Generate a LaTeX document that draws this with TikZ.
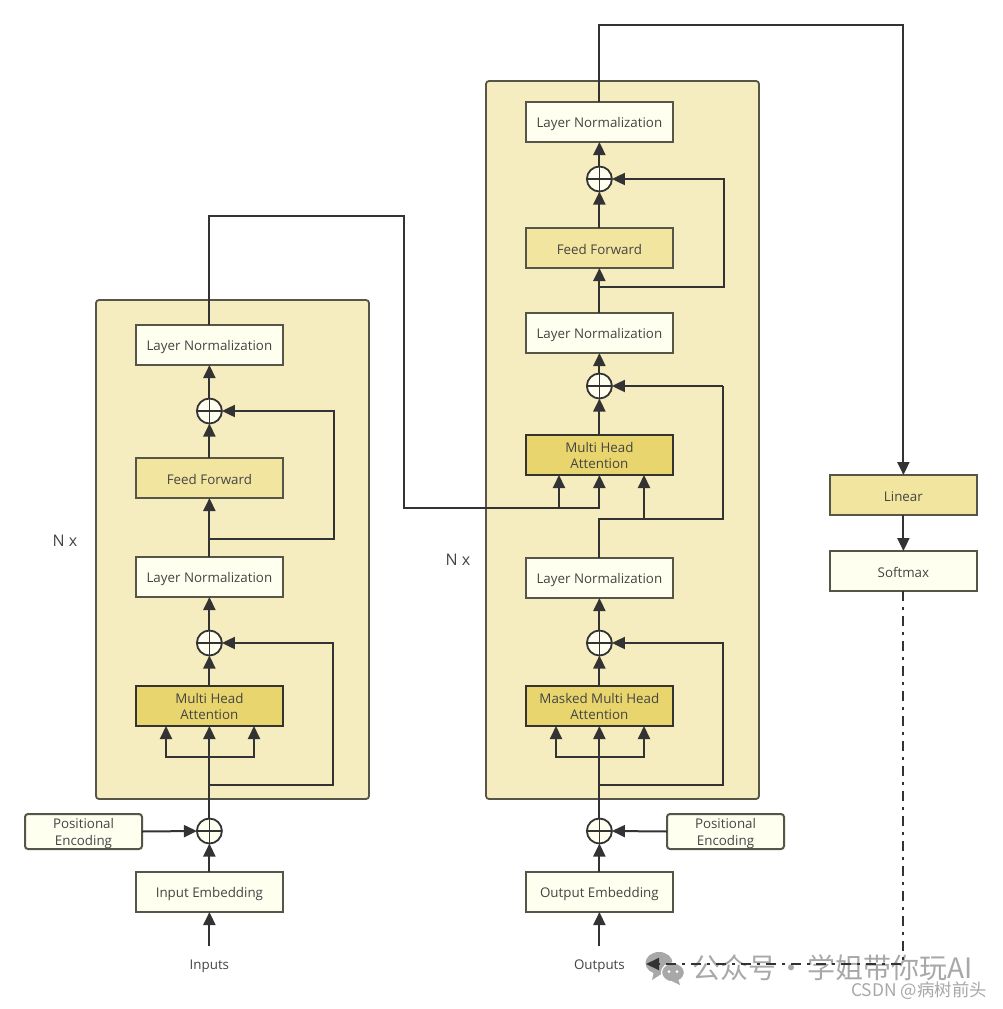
\documentclass[tikz,border=0pt]{standalone}
\usepackage{fontspec}
\setmainfont{Open Sans}
\newfontfamily\cjkfont{Noto Sans CJK SC}
\usetikzlibrary{arrows.meta,calc}
\definecolor{panelcol}{HTML}{F5ECC0}
\definecolor{lightcol}{HTML}{FFFFF0}
\definecolor{midcol}{HTML}{F2E5A0}
\definecolor{deepcol}{HTML}{E8D56D}
\definecolor{linecol}{HTML}{333333}
\definecolor{edgecol}{HTML}{555548}
\definecolor{textcol}{HTML}{444444}
\definecolor{markcol}{HTML}{A8A8A8}
\newcommand\toppad{\rule{0pt}{14pt}}
\tikzset{
  panel/.style={draw=edgecol,line width=1.8pt,fill=panelcol,rounded corners=3pt,minimum width=273pt,inner sep=0pt,outer sep=0pt},
  blockbase/.style={draw=edgecol,line width=2pt,minimum width=147.4pt,minimum height=40pt,inner sep=0pt,outer sep=0pt,text=textcol,font=\fontsize{13.35}{16}\selectfont,align=center,execute at begin node={\rule{0pt}{14pt}}},
  plainblock/.style={blockbase,fill=lightcol},
  midblock/.style={blockbase,fill=midcol},
  deepblock/.style={blockbase,fill=deepcol,draw=linecol},
  posblock/.style={blockbase,fill=lightcol,rounded corners=3pt,minimum width=117pt,minimum height=35pt,font=\fontsize{13.35}{17}\selectfont},
  addnode/.style={circle,draw=linecol,line width=1.8pt,fill=lightcol,minimum size=25pt,inner sep=0pt,outer sep=0pt,
    path picture={\draw[linecol,line width=1.3pt] (path picture bounding box.north)--(path picture bounding box.south) (path picture bounding box.west)--(path picture bounding box.east);}},
  flow/.style={draw=linecol,line width=2pt,-{Triangle[length=13pt,width=12pt]}},
  wire/.style={draw=linecol,line width=2pt},
  plainlabel/.style={text=textcol,font=\fontsize{13.35}{16}\selectfont,inner sep=0pt},
  nlabel/.style={text=textcol,font=\fontsize{16}{18}\selectfont,inner sep=0pt},
}
\begin{document}
\begin{tikzpicture}[x=1pt,y=-1pt]
\useasboundingbox[fill=white] (0,0) rectangle (1002,1009);
% panels
\node[panel,minimum height=499pt] (panelL) at (232.5,549.5) {};
\node[panel,minimum height=718pt] (panelR) at (622.5,440) {};
% left column
\node[plainblock] (lnL2) at (209.4,345) {Layer Normalization};
\node[addnode] (addL2) at (209.4,411) {};
\node[midblock] (ffL) at (209.4,478) {Feed Forward};
\node[plainblock] (lnL1) at (209.4,577) {Layer Normalization};
\node[addnode] (addL1) at (209.4,643) {};
\node[deepblock] (mhaL) at (209.4,706) {Multi Head\\Attention};
\node[addnode] (addL0) at (209.4,831) {};
\node[posblock] (posL) at (83.5,831.5) {\toppad Positional\\Encoding};
\node[plainblock] (embL) at (209.4,892) {Input Embedding};
\node[plainlabel] (inL) at (209.4,966.5) {Inputs};
% right column
\node[plainblock] (lnR3) at (599.4,122) {Layer Normalization};
\node[addnode] (addR3) at (599.4,179) {};
\node[midblock] (ffR) at (599.4,248) {Feed Forward};
\node[plainblock] (lnR2) at (599.4,333) {Layer Normalization};
\node[addnode] (addR2) at (599.4,386) {};
\node[deepblock] (mhaR) at (599.4,455) {Multi Head\\Attention};
\node[plainblock] (lnR1) at (599.4,578) {Layer Normalization};
\node[addnode] (addR1) at (599.4,643) {};
\node[deepblock] (mmhaR) at (599.4,706) {Masked Multi Head\\Attention};
\node[addnode] (addR0) at (599.4,831) {};
\node[posblock] (posR) at (725.5,831.5) {\toppad Positional\\Encoding};
\node[plainblock] (embR) at (599.4,892) {Output Embedding};
\node[plainlabel] (outR) at (599.4,966.5) {Outputs};
% output side
\node[midblock] (linear) at (903.4,495) {Linear};
\node[plainblock] (softmax) at (903.4,571) {Softmax};
\node[nlabel] (nL) at (65,541) {N x};
\node[nlabel] (nR) at (458,560) {N x};
% free ends
\coordinate (inS) at (209.4,946);
\coordinate (outS) at (599.4,946);
\coordinate (probe) at (646,964);
% left flow
\draw[flow] (inS) -- (embL.south);
\draw[flow] (embL.north) -- (addL0.south);
\draw[flow] (posL.east) -- (addL0.west);
\draw[flow] (addL0.north) -- (mhaL.south);
\draw[flow] (209.4,757) -- (166,757) -- (166,726);
\draw[flow] (209.4,757) -- (254,757) -- (254,726);
\draw[flow] (mhaL.north) -- (addL1.south);
\draw[flow] (209.4,785) -- (333,785) -- (333,643) -- (addL1.east);
\draw[flow] (addL1.north) -- (lnL1.south);
\draw[flow] (lnL1.north) -- (ffL.south);
\draw[flow] (209.4,539) -- (334,539) -- (334,411) -- (addL2.east);
\draw[flow] (ffL.north) -- (addL2.south);
\draw[flow] (addL2.north) -- (lnL2.south);
% encoder to decoder
\draw[flow] (lnL2.north) -- (209.4,216) -- (404.4,216) -- (404.4,507.5) -- (599.4,507.5) -- (mhaR.south);
\draw[flow] (559,507.5) -- (559,475);
% right flow
\draw[flow] (outS) -- (embR.south);
\draw[flow] (embR.north) -- (addR0.south);
\draw[flow] (posR.west) -- (addR0.east);
\draw[flow] (addR0.north) -- (mmhaR.south);
\draw[flow] (599.4,757) -- (556,757) -- (556,726);
\draw[flow] (599.4,757) -- (644,757) -- (644,726);
\draw[flow] (mmhaR.north) -- (addR1.south);
\draw[flow] (599.4,785) -- (723,785) -- (723,643) -- (addR1.east);
\draw[flow] (addR1.north) -- (lnR1.south);
\draw[wire] (lnR1.north) -- (599.4,518.5) -- (723,518.5) -- (723,386);
\draw[flow] (723,386) -- (addR2.east);
\draw[flow] (644,518.5) -- (644,475);
\draw[flow] (mhaR.north) -- (addR2.south);
\draw[flow] (addR2.north) -- (lnR2.south);
\draw[flow] (lnR2.north) -- (ffR.south);
\draw[flow] (599.4,287) -- (724,287) -- (724,179) -- (addR3.east);
\draw[flow] (ffR.north) -- (addR3.south);
\draw[flow] (addR3.north) -- (lnR3.south);
\draw[flow] (lnR3.north) -- (599.4,25) -- (903.4,25) -- (linear.north);
\draw[flow] (linear.south) -- (softmax.north);
% watermark
\fill[markcol] (659,963) ellipse (13.5pt and 11pt);
\fill[markcol] (654,971) -- (652,980) -- (663,973) -- cycle;
\draw[white,line width=1.2pt,fill=markcol] (673,972.5) ellipse (11.5pt and 9.5pt);
\fill[markcol] (678,979) -- (680,985) -- (672,981) -- cycle;
\fill[white] (669,971.5) circle (1.5pt) (677,971.5) circle (1.5pt);
\node[inner sep=0pt,anchor=west,text=markcol,font=\cjkfont\fontsize{28}{30}\selectfont] (wm1) at (692,968) {公众号\hspace{-4.5pt} · \hspace{-4.5pt}学姐带你玩AI};
\node[inner sep=0pt,anchor=east,text=markcol,font=\cjkfont\fontsize{17.4}{20}\selectfont] (wm2) at (987,991) {CSDN @病树前头};
% softmax feedback, over the watermark
\draw[flow,dash pattern=on 10pt off 6pt on 3pt off 6pt] (softmax.south) -- (903.4,964) -- (probe);
\end{tikzpicture}
\end{document}
